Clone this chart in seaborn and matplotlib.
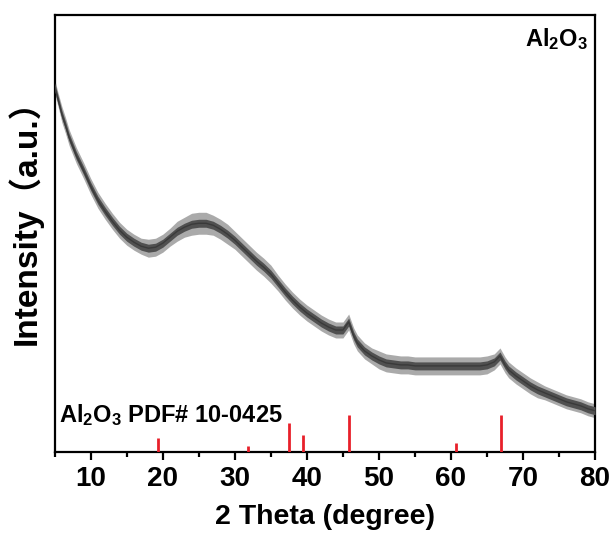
import numpy as np
import pandas as pd
import matplotlib
matplotlib.use("Agg")
import matplotlib.pyplot as plt
import seaborn as sns

# ---- data (intensity in arbitrary units) ----
two_theta = [5.0, 5.5, 6.0, 6.5, 7.0, 8.0, 9.0, 10.0, 11.0, 12.0, 13.0, 14.0, 15.0,
             16.0, 17.0, 18.0, 19.0, 20.0, 21.0, 22.0, 23.0, 24.0, 25.0, 26.0, 27.0,
             28.0, 29.0, 30.0, 31.0, 32.0, 33.0, 34.0, 35.0, 36.0, 37.0, 38.0, 39.0,
             40.0, 41.0, 42.0, 43.0, 44.0, 45.0, 45.8, 46.5, 47.0, 48.0, 49.0, 50.0,
             51.0, 52.0, 53.0, 54.0, 55.0, 56.0, 57.0, 58.0, 59.0, 60.0, 61.0, 62.0,
             63.0, 64.0, 65.0, 66.0, 66.8, 67.5, 68.0, 69.0, 70.0, 71.0, 72.0, 73.0,
             74.0, 75.0, 76.0, 77.0, 78.0, 79.0, 80.0]
intensity = [366, 352, 338, 327, 315, 297, 282, 266, 252, 241, 231, 222, 215,
             210, 206, 204, 205, 209, 215, 221, 225, 228, 229, 229, 227,
             223, 218, 212, 205, 198, 191, 185, 178, 169, 160, 152, 145,
             139, 134, 129, 125, 122, 122, 130, 116, 109, 101, 96, 92,
             89, 88, 87, 87, 86, 86, 86, 86, 86, 86, 86, 86,
             86, 86, 87, 90, 96, 87, 82, 76, 71, 66, 62, 59,
             56, 53, 50, 48, 46, 43, 41]
core_spread = [4, 4, 4, 4, 4, 4, 4, 4, 4, 4, 4, 4, 4,
               4, 4, 4, 4, 4, 4, 4, 4, 4, 4, 4, 4,
               4, 4, 4, 4, 4, 4, 4, 4, 4, 4, 4, 4,
               4, 4, 4, 4, 4, 4, 4, 4, 4, 4, 4, 4,
               4, 4, 4, 4, 4, 4, 4, 4, 4, 4, 4, 4,
               4, 4, 4, 4, 4, 4, 4, 4, 4, 4, 4, 4,
               4, 4, 4, 4, 4, 4, 4]
spike_spread = [7, 7, 8, 8, 8, 8, 8, 8, 8, 8, 8, 8, 8,
                8, 8, 9, 9, 9, 9, 10, 10, 11, 11, 11, 10,
                10, 10, 9, 9, 9, 9, 9, 9, 8, 8, 8, 8,
                8, 8, 8, 8, 8, 8, 8, 8, 8, 8, 8, 9,
                9, 9, 9, 9, 9, 9, 9, 9, 9, 9, 9, 9,
                9, 9, 9, 8, 8, 8, 8, 8, 8, 8, 8, 7,
                7, 7, 7, 7, 7, 7, 7]

ref_positions = [19.35, 31.8, 37.5, 39.4, 45.8, 60.7, 66.9]
ref_heights = [14, 6, 29, 17, 37, 9, 37]

xticks = [10, 20, 30, 40, 50, 60, 70, 80]

df = pd.DataFrame({"two_theta": two_theta, "intensity": intensity,
                   "core": core_spread, "spike": spike_spread})

# ---- style ----
sns.set_theme(style="white")
plt.rcParams["font.family"] = ["Liberation Sans", "Noto Sans CJK SC", "DejaVu Sans"]
plt.rcParams["font.weight"] = "bold"
plt.rcParams["mathtext.default"] = "regular"
plt.rcParams["text.color"] = "black"
plt.rcParams["axes.labelcolor"] = "black"
plt.rcParams["xtick.color"] = "black"
plt.rcParams["xtick.labelcolor"] = "black"

fig = plt.figure(figsize=(6.11, 5.39), dpi=100)
ax = fig.add_axes([0.0895, 0.162, 0.8845, 0.810])

y = df["intensity"].to_numpy(float)
ax.fill_between(df["two_theta"], y - df["spike"], y + df["spike"],
                color="#8e8e8e", lw=0, alpha=0.75, zorder=2)
ax.fill_between(df["two_theta"], y - df["core"], y + df["core"],
                color="#505050", lw=0, zorder=3)
sns.lineplot(data=df, x="two_theta", y="intensity", color="#3a3a3a",
             linewidth=1.0, ax=ax, zorder=4)

ax.vlines(ref_positions, 0, ref_heights, colors="#e8202a", linewidth=2.0, zorder=5)

ax.set_xlim(5, 80)
ax.set_ylim(0, 437.7)
ax.set_xticks(xticks)
ax.set_xticks([5 + 10 * i for i in range(8)], minor=True)
ax.set_yticks([])
ax.tick_params(axis="x", which="major", direction="out", length=6, width=1.6,
               labelsize=20, pad=4, bottom=True, colors="black")
ax.tick_params(axis="x", which="minor", direction="out", length=3.5, width=1.6,
               bottom=True, colors="black")
for lab in ax.get_xticklabels():
    lab.set_fontweight("bold")
for sp in ax.spines.values():
    sp.set_linewidth(1.6)
    sp.set_color("black")

ax.set_xlabel("2 Theta (degree)", fontsize=20.5, fontweight="bold", labelpad=9,
              color="black")
ax.set_ylabel("Intensity（a.u.）", fontsize=24, fontweight="bold",
              color="black")
ax.yaxis.set_label_coords(-0.022, 0.545)

ax.text(0.987, 0.975, "Al$_2$O$_3$", transform=ax.transAxes, ha="right", va="top",
        fontsize=17, fontweight="bold", color="black")
ax.text(0.008, 0.068, "Al$_2$O$_3$ PDF# 10-0425", transform=ax.transAxes,
        ha="left", va="baseline", fontsize=17, fontweight="bold", color="black")

fig.savefig("out.png", dpi=100)
